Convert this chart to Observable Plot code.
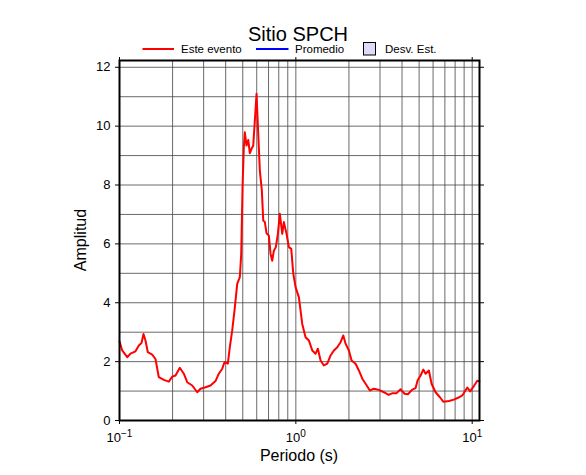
<!DOCTYPE html>
<html><head><meta charset="utf-8">
<script src="https://cdn.jsdelivr.net/npm/d3@7"></script>
<script src="https://cdn.jsdelivr.net/npm/@observablehq/plot@0.6"></script>
<style>body{margin:0;background:#fff;} #chart svg{display:block;}</style>
</head><body><div id="chart"></div>
<script>
// Periodo (s)
const period = [0.1, 0.1036, 0.1106, 0.1154, 0.1232, 0.1287, 0.1333, 0.1368, 0.1404, 0.1447,
  0.1533, 0.1600, 0.1671, 0.1784, 0.1904, 0.1991, 0.2078, 0.2198, 0.2316, 0.2421,
  0.2585, 0.2759, 0.2880, 0.3075, 0.3282, 0.3503, 0.3658, 0.3824, 0.3940, 0.4114,
  0.4223, 0.4357, 0.4490, 0.4651, 0.4812, 0.4901, 0.4985, 0.5070, 0.5137, 0.5252,
  0.5370, 0.5484, 0.5607, 0.5733, 0.5854, 0.5985, 0.6120, 0.6249, 0.6415, 0.6533,
  0.6671, 0.6821, 0.7029, 0.7187, 0.7348, 0.7503, 0.7702, 0.7906, 0.8115, 0.8374,
  0.8551, 0.8857, 0.9128, 0.9418, 0.9666, 0.9961, 1.040, 1.087, 1.135, 1.185,
  1.239, 1.294, 1.333, 1.381, 1.442, 1.507, 1.574, 1.643, 1.718, 1.793,
  1.858, 1.914, 1.999, 2.070, 2.181, 2.277, 2.381, 2.486, 2.629, 2.770,
  2.957, 3.157, 3.356, 3.536, 3.726, 3.926, 4.136, 4.318, 4.573, 4.775,
  4.901, 5.097, 5.280, 5.441, 5.680, 5.884, 6.200, 6.559, 6.857, 7.379,
  7.875, 8.374, 8.788, 9.381, 9.729, 10.22, 10.69, 11.0];
// Amplitud — Este evento
const amplitude = [2.69, 2.38, 2.15, 2.27, 2.35, 2.55, 2.63, 2.94, 2.72, 2.32,
  2.24, 2.09, 1.47, 1.38, 1.32, 1.49, 1.53, 1.79, 1.59, 1.30,
  1.19, 0.96, 1.08, 1.13, 1.19, 1.34, 1.59, 1.76, 1.98, 1.93,
  2.49, 3.06, 3.74, 4.64, 4.87, 5.66, 7.92, 9.28, 9.79, 9.34,
  9.53, 9.08, 9.23, 9.34, 10.19, 11.1, 9.74, 8.49, 7.81, 6.79,
  6.74, 6.36, 6.28, 5.66, 5.43, 5.77, 5.89, 6.34, 7.02, 6.34,
  6.74, 6.34, 5.89, 5.83, 5.00, 4.53, 4.19, 3.28, 2.83, 2.72,
  2.38, 2.27, 2.44, 2.04, 1.87, 1.93, 2.21, 2.38, 2.49, 2.66,
  2.89, 2.61, 2.38, 2.04, 1.93, 1.70, 1.42, 1.25, 1.02, 1.08,
  1.04, 0.96, 0.87, 0.93, 0.93, 1.06, 0.91, 0.89, 1.05, 1.10,
  1.36, 1.53, 1.73, 1.59, 1.70, 1.25, 0.96, 0.79, 0.64, 0.66,
  0.71, 0.78, 0.85, 1.12, 0.99, 1.17, 1.35, 1.33];

const xTicks = [0.1, 1, 10];
const xGrid = [0.2, 0.3, 0.4, 0.5, 0.6, 0.7, 0.8, 0.9, 1, 2, 3, 4, 5, 6, 7, 8, 9, 10];
const yTicks = [0, 2, 4, 6, 8, 10, 12];
const yGrid = [1, 2, 3, 4, 5, 6, 7, 8, 9, 10, 11, 12];
const titleText = "Sitio SPCH";
const xLabel = "Periodo (s)";
const yLabel = "Amplitud";
const legendLabels = ["Este evento", "Promedio", "Desv. Est."];
const legendColors = ["#ff0000", "#0000ff", "#dcdcf8"];

const data = period.map((p, i) => ({period: p, amplitude: amplitude[i]}));
const font = '"Liberation Sans", Arial, Helvetica, sans-serif';

const chart = Plot.plot({
  width: 586, height: 475,
  marginTop: 60, marginBottom: 55, marginLeft: 119, marginRight: 107,
  style: {fontFamily: font, fontSize: "13px", color: "black", background: "white"},
  x: {type: "log", domain: [0.1, 11]},
  y: {domain: [0, 12.23]},
  marks: [
    Plot.gridX(xGrid, {stroke: "#444", strokeOpacity: 1, strokeWidth: 0.8}),
    Plot.gridY(yGrid, {stroke: "#444", strokeOpacity: 1, strokeWidth: 0.8}),
    Plot.line(data, {x: "period", y: "amplitude", stroke: legendColors[0], strokeWidth: 2}),
    Plot.axisX(xTicks, {anchor: "bottom", tickSize: 4, tickPadding: 8.5, label: null,
      tickFormat: d => String(Math.round(Math.log10(d)))}),
    Plot.axisX(xTicks, {anchor: "top", tickSize: 4, label: null, tickFormat: () => ""}),
    Plot.axisY(yTicks, {anchor: "left", tickSize: 4, tickPadding: 5, label: null}),
    Plot.axisY(yTicks, {anchor: "right", tickSize: 4, label: null, tickFormat: () => ""}),
    Plot.frame({stroke: "black", strokeWidth: 2})
  ]
});
document.getElementById("chart").appendChild(chart);

const svg = d3.select(chart);
// power-of-ten tick labels
svg.selectAll('g[aria-label="x-axis tick label"] text').each(function () {
  const e = this.textContent;
  if (!e) return;
  const t = d3.select(this);
  t.text("");
  t.append("tspan").text("10");
  t.append("tspan").attr("dy", "-5").attr("font-size", "10px").text(e.replace("-", "\u2212"));
});

const g = svg.append("g").attr("font-family", font).attr("fill", "black");
g.append("text").attr("x", 298).attr("y", 40.5).attr("text-anchor", "middle")
  .attr("font-size", "20px").text(titleText);
g.append("text").attr("x", 299).attr("y", 461).attr("text-anchor", "middle")
  .attr("font-size", "16px").text(xLabel);
g.append("text").attr("transform", "translate(86,240) rotate(-90)").attr("text-anchor", "middle")
  .attr("font-size", "16px").text(yLabel);

// legend
const lg = g.append("g").attr("font-size", "11.5px").attr("text-anchor", "start");
lg.append("line").attr("x1", 142.5).attr("x2", 174).attr("y1", 49).attr("y2", 49)
  .attr("stroke", legendColors[0]).attr("stroke-width", 2);
lg.append("text").attr("x", 181).attr("y", 53).text(legendLabels[0]);
lg.append("line").attr("x1", 256).attr("x2", 288.5).attr("y1", 49).attr("y2", 49)
  .attr("stroke", legendColors[1]).attr("stroke-width", 2);
lg.append("text").attr("x", 295).attr("y", 53).text(legendLabels[1]);
lg.append("rect").attr("x", 363.5).attr("y", 42.5).attr("width", 12).attr("height", 12.5)
  .attr("fill", legendColors[2]).attr("stroke", "black").attr("stroke-width", 1);
lg.append("text").attr("x", 385).attr("y", 53).text(legendLabels[2]);
</script>
</body></html>
